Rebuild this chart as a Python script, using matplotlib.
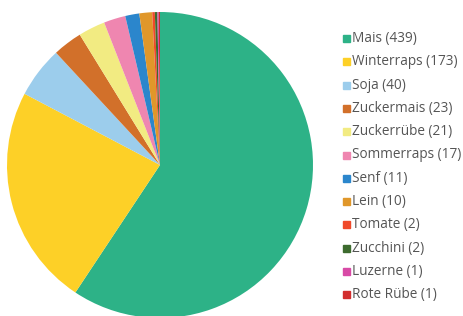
import matplotlib.pyplot as plt
from matplotlib.patches import Rectangle

crops = ["Mais", "Winterraps", "Soja", "Zuckermais", "Zuckerrübe", "Sommerraps",
         "Senf", "Lein", "Tomate", "Zucchini", "Luzerne", "Rote Rübe"]
counts = [439, 173, 40, 23, 21, 17, 11, 10, 2, 2, 1, 1]
colors = ["#2db287", "#fdd027", "#9ccdec", "#d2702a", "#f2eb82", "#ef86b0",
          "#2b86cc", "#e0972a", "#f04a2a", "#3d6b2e", "#d84aa6", "#d22e2e"]

W, H = 464, 316
fig = plt.figure(figsize=(W / 100, H / 100), dpi=100)

# pie: centre (160, 165) px, radius 153 px
cx, cy, r = 160, 165, 153
ax = fig.add_axes([(cx - r) / W, (H - cy - r) / H, 2 * r / W, 2 * r / H])
wedges, _ = ax.pie(counts, colors=colors, startangle=90, counterclock=False,
                   wedgeprops=dict(linewidth=0))
ax.set_xlim(-1, 1)
ax.set_ylim(-1, 1)
for w in wedges:
    w.set_clip_on(False)

# legend
y0, dy = 38.5, 23.3
for i, (name, n, c) in enumerate(zip(crops, counts, colors)):
    y = y0 + i * dy
    fig.patches.append(Rectangle((343.5 / W, 1 - (y + 3.5) / H), 7 / W, 7 / H,
                                 transform=fig.transFigure, color=c))
    fig.text(352.5 / W, 1 - y / H, f"{name} ({n})", fontsize=9.8,
             family="Open Sans", color="#555555", va="center", ha="left")

fig.savefig("out.png", dpi=100)
